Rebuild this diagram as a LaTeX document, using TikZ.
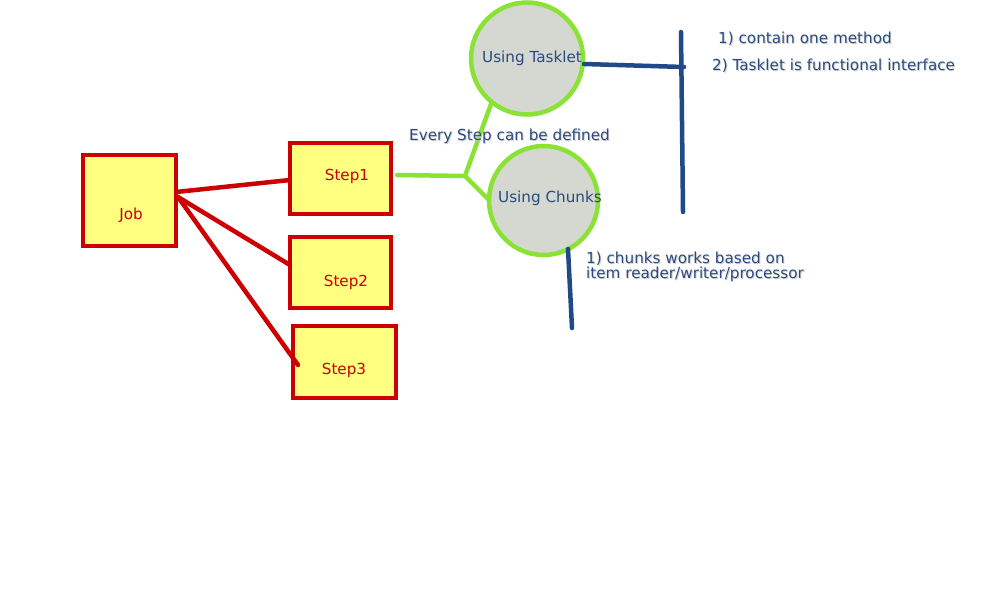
\documentclass[tikz,border=0pt]{standalone}
\usepackage{fontspec}
\setmainfont{DejaVu Sans}
\definecolor{boxred}{HTML}{CC0000}
\definecolor{boxfill}{HTML}{FFFF80}
\definecolor{circfill}{HTML}{D5D8D0}
\definecolor{lgreen}{HTML}{8AE234}
\definecolor{navy}{HTML}{204A87}
\definecolor{txtblue}{HTML}{2A4A80}
\definecolor{shadowgray}{HTML}{D0D0D0}
\begin{document}
\begin{tikzpicture}[x=1pt,y=-1pt,
  every node/.style={font=\fontsize{15.2}{16}\selectfont},
  stepbox/.style={draw=boxred,fill=boxfill,line width=4.5pt,inner sep=0pt,text=boxred},
  bubble/.style={circle,draw=lgreen,fill=circfill,line width=4.5pt,inner sep=0pt,text=txtblue},
  redline/.style={draw=boxred,line width=4.5pt,line cap=round},
  greenline/.style={draw=lgreen,line width=4.5pt,line cap=round,line join=round},
  blueline/.style={draw=navy,line width=4.5pt,line cap=round},
  note/.style={text=txtblue,anchor=west,inner sep=0pt,align=left,font=\fontsize{15.2}{15}\selectfont},
  noteshadow/.style={text=shadowgray,anchor=west,inner sep=0pt,align=left,font=\fontsize{15.2}{15}\selectfont}
]
\useasboundingbox (0,0) rectangle (1000,600);
% boxes
\node[stepbox,minimum width=93pt,minimum height=91pt] (job) at (129.5,200.5) {};
\node[text=boxred] (jobt) at (131,215) {Job};
\node[stepbox,minimum width=101pt,minimum height=71pt] (s1) at (340.5,178.5) {};
\node[text=boxred] (s1t) at (347,176) {Step1};
\node[stepbox,minimum width=101pt,minimum height=71pt] (s2) at (340.5,272.5) {};
\node[text=boxred] (s2t) at (346,282) {Step2};
\node[stepbox,minimum width=103pt,minimum height=72pt] (s3) at (344.5,362) {};
\node[text=boxred] (s3t) at (344,370) {Step3};
% circles
\node[bubble,minimum size=112pt] (tasklet) at (527,58.5) {};
\node[text=txtblue] (taskt) at (532,58) {Using Tasklet};
\node[bubble,minimum size=109pt] (chunks) at (543.5,200.5) {};
\node[text=txtblue] (chunkt) at (550,198) {Using Chunks};
% red connectors
\coordinate (j1) at (176,192);
\coordinate (j2) at (178,197);
\coordinate (e1) at (290,180);
\coordinate (e2) at (290,265);
\coordinate (e3) at (298,365);
\draw[redline] (j1) -- (e1);
\draw[redline] (j2) -- (e2);
\draw[redline] (j2) -- (e3);
% green connectors
\coordinate (g0) at (397,175);
\coordinate (gj) at (465,176);
\coordinate (gt) at (491,104);
\coordinate (gc) at (488,199);
\draw[greenline] (g0) -- (gj) -- (gt);
\draw[greenline] (gj) -- (gc);
% blue connectors
\coordinate (b0) at (584,64);
\coordinate (b1) at (684,67);
\coordinate (v0) at (681,32);
\coordinate (v1) at (683,212);
\coordinate (c0) at (568,249);
\coordinate (c1) at (572,328);
\draw[blueline] (b0) -- (b1);
\draw[blueline] (v0) -- (v1);
\draw[blueline] (c0) -- (c1);
% notes
\node[noteshadow] at (410,137) {Every Step can be defined};
\node[note] (every) at (409,136) {Every Step can be defined};
\node[noteshadow] at (719,40) {1) contain one method};
\node[note] (n1) at (718,39) {1) contain one method};
\node[noteshadow] at (713,67) {2) Tasklet is functional interface};
\node[note] (n2) at (712,66) {2) Tasklet is functional interface};
\node[noteshadow] at (587,267.5) {1) chunks works based on\\item reader/writer/processor};
\node[note] (n3) at (586,266.5) {1) chunks works based on\\item reader/writer/processor};
\end{tikzpicture}
\end{document}
